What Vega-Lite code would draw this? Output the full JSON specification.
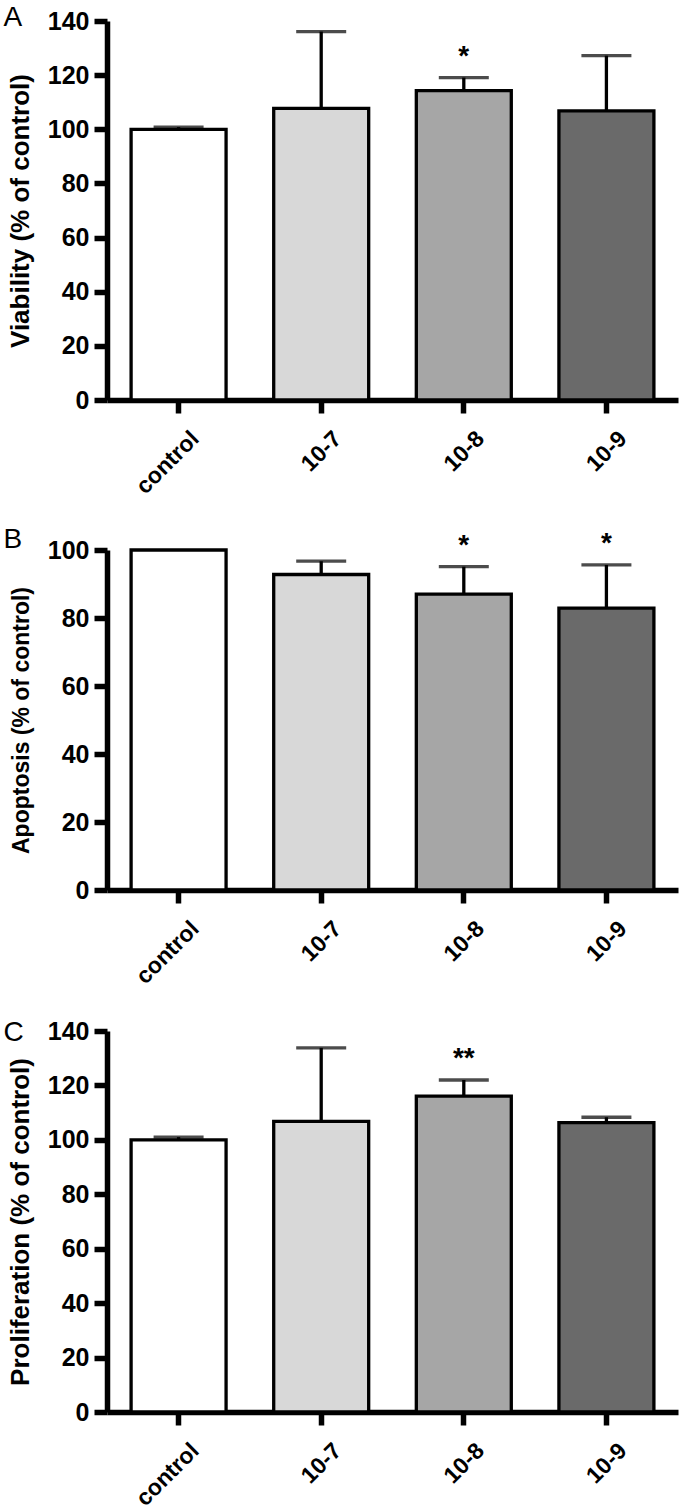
{
  "$schema": "https://vega.github.io/schema/vega-lite/v6.json",
  "padding": {"left": 3, "top": 4, "right": 2, "bottom": 2},
  "background": "white",
  "data": {
    "values": [
      {"panel": "A", "group": "control", "mean": 100, "upper": 100.8, "star": null},
      {"panel": "A", "group": "10-7", "mean": 107.7, "upper": 136.1, "star": null},
      {"panel": "A", "group": "10-8", "mean": 114.3, "upper": 119.1, "star": "*"},
      {"panel": "A", "group": "10-9", "mean": 106.8, "upper": 127.2, "star": null},
      {"panel": "B", "group": "control", "mean": 100, "upper": null, "star": null},
      {"panel": "B", "group": "10-7", "mean": 92.8, "upper": 96.7, "star": null},
      {"panel": "B", "group": "10-8", "mean": 87.0, "upper": 95.1, "star": "*"},
      {"panel": "B", "group": "10-9", "mean": 82.9, "upper": 95.6, "star": "*"},
      {"panel": "C", "group": "control", "mean": 100, "upper": 101.0, "star": null},
      {"panel": "C", "group": "10-7", "mean": 106.8, "upper": 133.8, "star": null},
      {"panel": "C", "group": "10-8", "mean": 116.1, "upper": 122.0, "star": "**"},
      {"panel": "C", "group": "10-9", "mean": 106.3, "upper": 108.3, "star": null}
    ]
  },
  "config": {
    "view": {"stroke": null},
    "font": "Liberation Sans",
    "axis": {
      "domainColor": "black", "domainWidth": 5.5,
      "tickColor": "black", "tickWidth": 5.5, "tickSize": 13,
      "labelFont": "Liberation Sans", "labelFontWeight": "bold", "labelFontSize": 25, "labelColor": "black",
      "titleFont": "Liberation Sans", "titleFontWeight": "bold", "titleFontSize": 26, "titleColor": "black",
      "grid": false
    },
    "axisY": {"labelPadding": 5, "titlePadding": 14},
    "axisX": {"labelAngle": -45, "labelPadding": 14, "labelOffset": 9, "labelFontSize": 23},
    "title": {"font": "Liberation Sans", "fontSize": 28, "fontWeight": "normal", "anchor": "start", "frame": "group", "color": "black", "baseline": "alphabetic", "offset": 0}
  },
  "spacing": 150,
  "bounds": "flush",
  "vconcat": [
    {
      "width": 571, "height": 379,
      "title": {"text": "A", "dx": -103.5, "dy": 27},
      "transform": [{"filter": "datum.panel === 'A'"}],
      "encoding": {
        "x": {"field": "group", "type": "nominal", "sort": ["control", "10-7", "10-8", "10-9"],
              "scale": {"paddingInner": 0.334, "paddingOuter": 0.169}, "axis": {"title": null}}
      },
      "layer": [
        {"mark": {"type": "bar", "stroke": "black", "strokeWidth": 3.3},
         "encoding": {
           "y": {"field": "mean", "type": "quantitative", "title": "Viability (% of control)",
                 "scale": {"domain": [0, 140]}, "axis": {"values": [0, 20, 40, 60, 80, 100, 120, 140]}},
           "fill": {"field": "group", "type": "nominal", "legend": null,
                    "scale": {"domain": ["control", "10-7", "10-8", "10-9"], "range": ["#ffffff", "#d8d8d8", "#a6a6a6", "#6a6a6a"]}}
         }},
        {"transform": [{"filter": "datum.upper != null"}],
         "mark": {"type": "rule", "strokeWidth": 3.3, "color": "black"},
         "encoding": {"y": {"field": "mean", "type": "quantitative", "title": "Viability (% of control)"}, "y2": {"field": "upper"}}},
        {"transform": [{"filter": "datum.upper != null"}],
         "mark": {"type": "tick", "thickness": 3.3, "size": 50, "color": "black"},
         "encoding": {"y": {"field": "upper", "type": "quantitative", "title": "Viability (% of control)"}}},
        {"transform": [{"filter": "datum.star != null"}],
         "mark": {"type": "text", "font": "Liberation Sans", "fontWeight": "bold", "fontSize": 28, "dy": -13, "baseline": "alphabetic", "color": "black"},
         "encoding": {"y": {"field": "upper", "type": "quantitative", "title": "Viability (% of control)"}, "text": {"field": "star"}}}
      ]
    },
    {
      "spacing": 141,
      "bounds": "flush",
      "vconcat": [
        {
          "width": 571, "height": 340,
          "title": {"text": "B", "dx": -103.5, "dy": 28},
          "transform": [{"filter": "datum.panel === 'B'"}],
          "encoding": {
            "x": {"field": "group", "type": "nominal", "sort": ["control", "10-7", "10-8", "10-9"],
                  "scale": {"paddingInner": 0.334, "paddingOuter": 0.169}, "axis": {"title": null}}
          },
          "layer": [
            {"mark": {"type": "bar", "stroke": "black", "strokeWidth": 3.3},
             "encoding": {
               "y": {"field": "mean", "type": "quantitative", "title": "Apoptosis (% of control)",
                     "scale": {"domain": [0, 100]}, "axis": {"values": [0, 20, 40, 60, 80, 100], "titleFontSize": 23}},
               "fill": {"field": "group", "type": "nominal", "legend": null,
                        "scale": {"domain": ["control", "10-7", "10-8", "10-9"], "range": ["#ffffff", "#d8d8d8", "#a6a6a6", "#6a6a6a"]}}
             }},
            {"transform": [{"filter": "datum.upper != null"}],
             "mark": {"type": "rule", "strokeWidth": 3.3, "color": "black"},
             "encoding": {"y": {"field": "mean", "type": "quantitative", "title": "Apoptosis (% of control)"}, "y2": {"field": "upper"}}},
            {"transform": [{"filter": "datum.upper != null"}],
             "mark": {"type": "tick", "thickness": 3.3, "size": 50, "color": "black"},
             "encoding": {"y": {"field": "upper", "type": "quantitative", "title": "Apoptosis (% of control)"}}},
            {"transform": [{"filter": "datum.star != null"}],
             "mark": {"type": "text", "font": "Liberation Sans", "fontWeight": "bold", "fontSize": 28, "dy": -13, "baseline": "alphabetic", "color": "black", "clip": false},
             "encoding": {"y": {"field": "upper", "type": "quantitative", "title": "Apoptosis (% of control)"}, "text": {"field": "star"}}}
          ]
        },
        {
          "width": 571, "height": 381,
          "title": {"text": "C", "dx": -103.5, "dy": 32},
          "transform": [{"filter": "datum.panel === 'C'"}],
          "encoding": {
            "x": {"field": "group", "type": "nominal", "sort": ["control", "10-7", "10-8", "10-9"],
                  "scale": {"paddingInner": 0.334, "paddingOuter": 0.169}, "axis": {"title": null}}
          },
          "layer": [
            {"mark": {"type": "bar", "stroke": "black", "strokeWidth": 3.3},
             "encoding": {
               "y": {"field": "mean", "type": "quantitative", "title": "Proliferation (% of control)",
                     "scale": {"domain": [0, 140]}, "axis": {"values": [0, 20, 40, 60, 80, 100, 120, 140]}},
               "fill": {"field": "group", "type": "nominal", "legend": null,
                        "scale": {"domain": ["control", "10-7", "10-8", "10-9"], "range": ["#ffffff", "#d8d8d8", "#a6a6a6", "#6a6a6a"]}}
             }},
            {"transform": [{"filter": "datum.upper != null"}],
             "mark": {"type": "rule", "strokeWidth": 3.3, "color": "black"},
             "encoding": {"y": {"field": "mean", "type": "quantitative", "title": "Proliferation (% of control)"}, "y2": {"field": "upper"}}},
            {"transform": [{"filter": "datum.upper != null"}],
             "mark": {"type": "tick", "thickness": 3.3, "size": 50, "color": "black"},
             "encoding": {"y": {"field": "upper", "type": "quantitative", "title": "Proliferation (% of control)"}}},
            {"transform": [{"filter": "datum.star != null"}],
             "mark": {"type": "text", "font": "Liberation Sans", "fontWeight": "bold", "fontSize": 28, "dy": -13, "baseline": "alphabetic", "color": "black"},
             "encoding": {"y": {"field": "upper", "type": "quantitative", "title": "Proliferation (% of control)"}, "text": {"field": "star"}}}
          ]
        }
      ]
    }
  ]
}
